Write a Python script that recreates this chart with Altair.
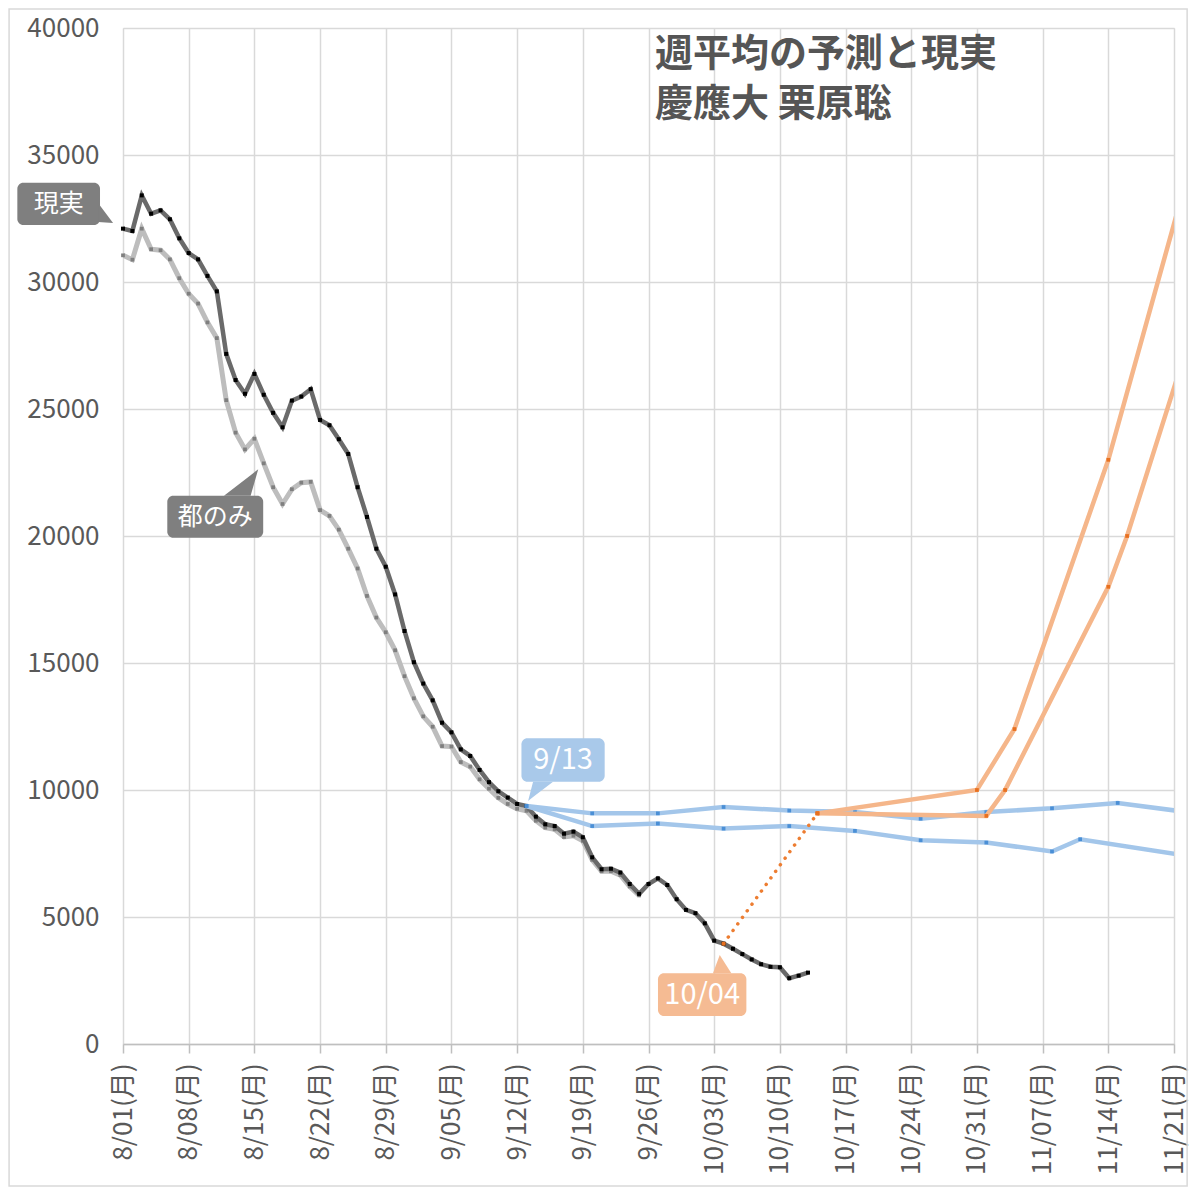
import altair as alt
import pandas as pd

START = "2022-08-01"

# ---- data ----
real_values = [32100, 32010, 33410, 32690, 32820, 32470, 31720, 31140, 30890, 30240,
               29630, 27170, 26140, 25600, 26380, 25560, 24850, 24280, 25330, 25490,
               25780, 24570, 24360, 23810, 23230, 21920, 20750, 19500, 18790, 17700,
               16260, 15030, 14190, 13530, 12650, 12270, 11600, 11340, 10790, 10310,
               9950, 9700, 9450, 9370, 8950, 8650, 8580, 8280, 8360, 8140,
               7350, 6880, 6900, 6750, 6300, 5910, 6300, 6520, 6260, 5700,
               5280, 5150, 4750, 4070, 3950, 3750, 3540, 3330, 3140, 3040,
               3020, 2590, 2690, 2810]
tokyo_values = [31050, 30880, 32100, 31290, 31250, 30890, 30150, 29540, 29150, 28410,
                27790, 25350, 24070, 23410, 23830, 22860, 21920, 21260, 21840, 22100,
                22130, 21020, 20790, 20250, 19500, 18720, 17640, 16790, 16210, 15500,
                14480, 13610, 12900, 12490, 11730, 11710, 11100, 10920, 10420, 10050,
                9690, 9450, 9260, 9180, 8790, 8520, 8450, 8150, 8200, 8000,
                7250, 6800, 6800, 6650, 6200, 5850]

blue_a_days = [43, 50, 57, 64, 71, 78, 85, 92, 99, 106, 113]
blue_a_values = [9370, 9080, 9080, 9330, 9190, 9130, 8870, 9130, 9280, 9490, 9150]
blue_b_days = [43, 50, 57, 64, 71, 78, 85, 92, 99, 102, 113]
blue_b_values = [9370, 8580, 8680, 8480, 8580, 8390, 8020, 7930, 7580, 8060, 7430]

orange_link_days = [64, 74]
orange_link_values = [3950, 9080]
orange_a_days = [74, 91, 95, 105, 113]
orange_a_values = [9080, 10000, 12400, 23000, 33620]
orange_b_days = [74, 92, 94, 105, 107, 113]
orange_b_values = [9080, 8980, 10000, 18000, 20000, 27000]

tick_dates = ["2022-08-01", "2022-08-08", "2022-08-15", "2022-08-22", "2022-08-29",
              "2022-09-05", "2022-09-12", "2022-09-19", "2022-09-26", "2022-10-03",
              "2022-10-10", "2022-10-17", "2022-10-24", "2022-10-31", "2022-11-07",
              "2022-11-14", "2022-11-21"]
y_ticks = [0, 5000, 10000, 15000, 20000, 25000, 30000, 35000, 40000]

title_lines = ["週平均の予測と現実", "慶應大 栗原聡"]

# annotation callouts: label, box (day0, day1, v0, v1), pointer polygon as (day, top, bottom)
callouts = [
    dict(label="現実", color="#7f7f7f", size=25, box=(-11.26, -2.45, 32244, 33910),
         ptr=[(-2.66, 33110, 32362), (-1.06, 32323, 32323)]),
    dict(label="都のみ", color="#7f7f7f", size=25, box=(4.72, 14.94, 19933, 21586),
         ptr=[(10.76, 21586, 21586), (13.60, 22393, 21586), (14.41, 22626, 22626)]),
    dict(label="9/13", color="#a9c9ea", size=29, box=(42.46, 51.33, 10327, 12036),
         ptr=[(43.17, 9567, 9567), (43.70, 10327, 9720), (45.83, 10327, 10327)]),
    dict(label="10/04", color="#f5bb93", size=29, box=(57.01, 66.43, 1102, 2783),
         ptr=[(62.87, 2783, 2783), (63.59, 3504, 2783), (64.83, 2783, 2783)]),
]
frame_box = (-12.14, 113.4, -5590, 40748)


def day_iso(d):
    return (pd.Timestamp(START) + pd.Timedelta(days=d)).strftime("%Y-%m-%dT%H:%M:%S")


def series_df(days, values, name):
    return pd.DataFrame({"date": [day_iso(d) for d in days], "value": values, "series": name})


real_df = series_df(range(len(real_values)), real_values, "現実")
tokyo_df = series_df(range(len(tokyo_values)), tokyo_values, "都のみ")
blue_df = pd.concat([series_df(blue_a_days, blue_a_values, "a"),
                     series_df(blue_b_days, blue_b_values, "b")])
orange_df = pd.concat([series_df(orange_a_days, orange_a_values, "a"),
                       series_df(orange_b_days, orange_b_values, "b")])
link_df = series_df(orange_link_days, orange_link_values, "link")

box_rows, ptr_rows, txt_rows = [], [], []
for i, c in enumerate(callouts):
    d0, d1, v0, v1 = c["box"]
    box_rows.append({"d0": day_iso(d0), "d1": day_iso(d1), "v0": v0, "v1": v1, "color": c["color"]})
    txt_rows.append({"date": day_iso((d0 + d1) / 2), "value": (v0 + v1) / 2, "label": c["label"],
                     "size": c["size"]})
    for d, top, bot in c["ptr"]:
        ptr_rows.append({"date": day_iso(d), "top": top, "bot": bot, "id": i, "color": c["color"]})
box_df = pd.DataFrame(box_rows)
ptr_df = pd.DataFrame(ptr_rows)
txt_df = pd.DataFrame(txt_rows)
frame_df = pd.DataFrame([{"d0": day_iso(frame_box[0]), "d1": day_iso(frame_box[1]),
                          "v0": frame_box[2], "v1": frame_box[3]}])
title_df = pd.DataFrame({"date": [day_iso(56.7)] * 2, "value": [38950, 36980], "text": title_lines})

FONT = "Noto Sans CJK JP"
LABEL_COLOR = "#595959"

xscale = alt.Scale(domain=[alt.DateTime(year=2022, month=8, date=1),
                           alt.DateTime(year=2022, month=11, date=21)], nice=False)
yscale = alt.Scale(domain=[0, 40000], nice=False)

xaxis = alt.Axis(
    values=[alt.DateTime(year=int(s[:4]), month=int(s[5:7]), date=int(s[8:10])) for s in tick_dates],
    format="%-m/%d(月)", formatType="time", labelAngle=-90, labelAlign="right",
    labelBaseline="middle", labelFontSize=26, labelColor=LABEL_COLOR, labelFont=FONT,
    labelPadding=10, tickSize=9, tickColor="#bfbfbf", tickWidth=1.5,
    domainColor="#bfbfbf", domainWidth=1.5, grid=True, gridColor="#d9d9d9", gridWidth=1.5,
    title=None, labelOverlap=False, labelFlush=False)
yaxis = alt.Axis(values=y_ticks, format="d", labelFontSize=26, labelColor=LABEL_COLOR,
                 labelFont=FONT, labelPadding=24, ticks=False, domain=False, grid=True,
                 gridColor="#d9d9d9", gridWidth=1.5, title=None)


def X(field="date"):
    return alt.X(field, type="temporal", scale=xscale, axis=xaxis)


def Y(field="value"):
    return alt.Y(field, type="quantitative", scale=yscale, axis=yaxis)


frame = alt.Chart(frame_df).mark_rect(fill=None, stroke="#d9d9d9", strokeWidth=1.5, clip=False).encode(
    x=X("d0"), x2="d1", y=Y("v0"), y2="v1")

tokyo_line = alt.Chart(tokyo_df).mark_line(color="#bdbdbd", strokeWidth=5, clip=True).encode(x=X(), y=Y())
tokyo_pts = alt.Chart(tokyo_df).mark_point(shape="square", filled=True, size=14, color="#7f7f7f",
                                           opacity=1).encode(x=X(), y=Y())
real_line = alt.Chart(real_df).mark_line(color="#6a6a6a", strokeWidth=4.5, clip=True).encode(x=X(), y=Y())
real_pts = alt.Chart(real_df).mark_point(shape="square", filled=True, size=16, color="#000000",
                                         opacity=1).encode(x=X(), y=Y())

blue_line = alt.Chart(blue_df).mark_line(color="#a3c6ea", strokeWidth=4.5, clip=True).encode(
    x=X(), y=Y(), detail="series")
blue_pts = alt.Chart(blue_df).mark_point(shape="square", filled=True, size=14, color="#4a8fd6",
                                         opacity=1, clip=True).encode(x=X(), y=Y())

link_line = alt.Chart(link_df).mark_line(color="#ed7d31", strokeWidth=3.5, strokeDash=[0.1, 8],
                                         strokeCap="round", clip=True).encode(x=X(), y=Y())
orange_line = alt.Chart(orange_df).mark_line(color="#f5b68a", strokeWidth=4.5, clip=True).encode(
    x=X(), y=Y(), detail="series")
orange_pts = alt.Chart(pd.concat([orange_df, link_df])).mark_point(
    shape="square", filled=True, size=14, color="#e8701f", opacity=1, clip=True).encode(x=X(), y=Y())

boxes = alt.Chart(box_df).mark_rect(cornerRadius=6, clip=False).encode(
    x=X("d0"), x2="d1", y=Y("v0"), y2="v1", color=alt.Color("color:N", scale=None))
pointers = alt.Chart(ptr_df).mark_area(clip=False, interpolate="linear").encode(
    x=X(), y=Y("top"), y2="bot", detail="id:N", color=alt.Color("color:N", scale=None))
texts = alt.Chart(txt_df).mark_text(color="white", font=FONT, align="center",
                                    baseline="middle", clip=False).encode(
    x=X(), y=Y(), text="label", size=alt.Size("size:Q", scale=None, legend=None))
title = alt.Chart(title_df).mark_text(color="#555555", fontSize=38, fontWeight="bold", font=FONT,
                                      align="left", baseline="middle").encode(
    x=X(), y=Y(), text="text")

chart = alt.layer(
    frame, tokyo_line, tokyo_pts, real_line, real_pts, blue_line, blue_pts,
    link_line, orange_line, orange_pts, boxes, pointers, texts, title
).properties(
    width=1051, height=1016,
    padding={"left": 115, "top": 20, "right": 16, "bottom": 146},
    autosize=alt.AutoSizeParams(type="none"),
).configure_view(
    stroke="#d9d9d9", strokeWidth=1.5
).configure(font=FONT)

chart.save("out.html", embed_options={"renderer": "svg", "actions": False})
